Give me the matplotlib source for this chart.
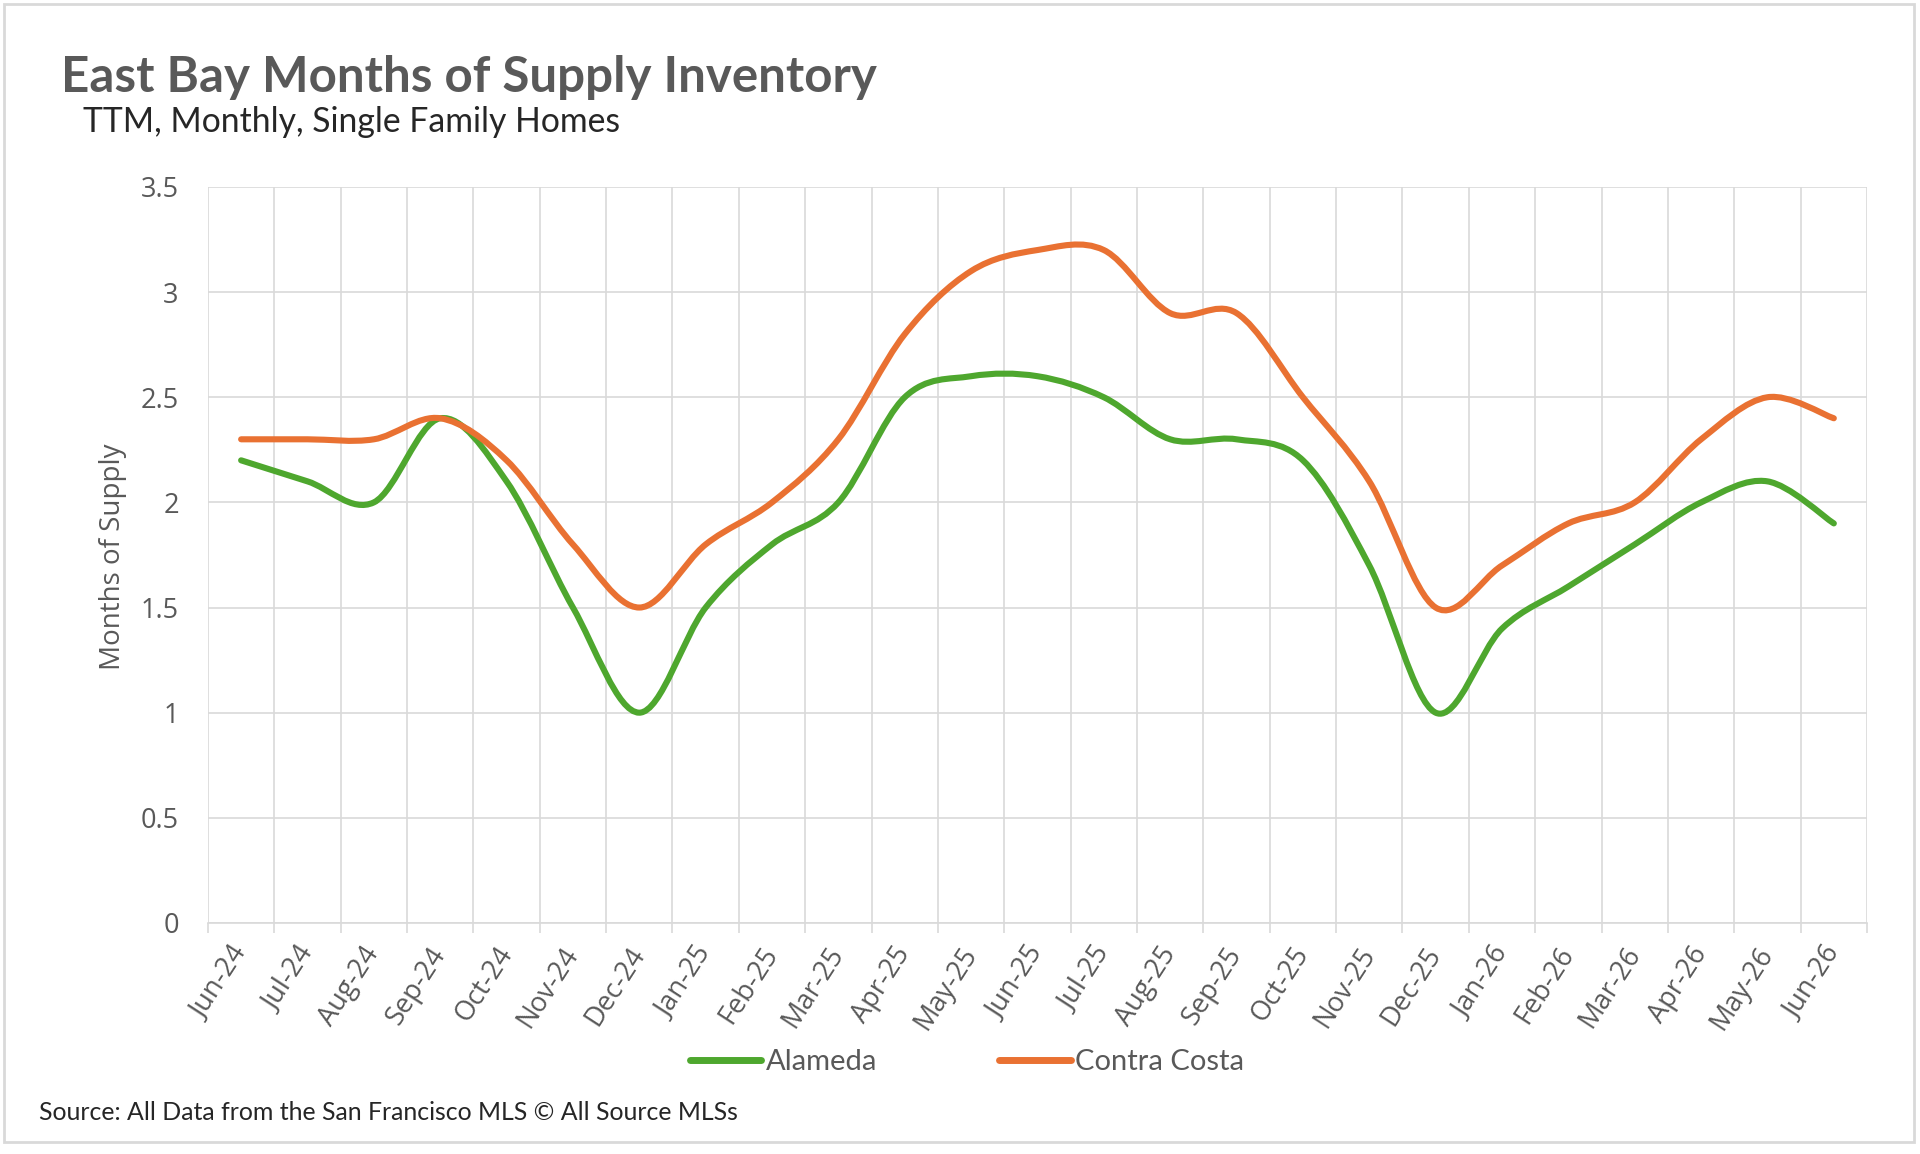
import numpy as np
import matplotlib
matplotlib.use('Agg')
import matplotlib.pyplot as plt
from matplotlib.path import Path
from matplotlib.patches import PathPatch, Rectangle
from matplotlib.lines import Line2D
from matplotlib.ticker import FuncFormatter

# data
months = ['Jun-24', 'Jul-24', 'Aug-24', 'Sep-24', 'Oct-24', 'Nov-24', 'Dec-24',
          'Jan-25', 'Feb-25', 'Mar-25', 'Apr-25', 'May-25', 'Jun-25', 'Jul-25',
          'Aug-25', 'Sep-25', 'Oct-25', 'Nov-25', 'Dec-25', 'Jan-26', 'Feb-26',
          'Mar-26', 'Apr-26', 'May-26', 'Jun-26']
alameda = [2.2, 2.1, 2.0, 2.4, 2.1, 1.5, 1.0, 1.5, 1.8, 2.0, 2.5, 2.6, 2.6,
           2.5, 2.3, 2.3, 2.2, 1.7, 1.0, 1.4, 1.6, 1.8, 2.0, 2.1, 1.9]
contra_costa = [2.3, 2.3, 2.3, 2.4, 2.2, 1.8, 1.5, 1.8, 2.0, 2.3, 2.8, 3.1, 3.2,
                3.2, 2.9, 2.9, 2.5, 2.1, 1.5, 1.7, 1.9, 2.0, 2.3, 2.5, 2.4]

GREEN = '#4EA72E'
ORANGE = '#E97132'
GRID = '#D9D9D9'
GRAY = '#595959'
DARK = '#262626'
NARROW = ['Lato', 'DejaVu Sans']

plt.rcParams['font.family'] = ['Open Sans', 'DejaVu Sans']


def smooth_path(vals):
    # excel style "smoothed line": cubic bezier through each point
    pts = np.column_stack([np.arange(len(vals), dtype=float), np.asarray(vals, float)])
    ext = np.vstack([pts[0], pts, pts[-1]])
    verts = [pts[0]]
    codes = [Path.MOVETO]
    for i in range(len(pts) - 1):
        p0, p1, p2, p3 = ext[i], ext[i + 1], ext[i + 2], ext[i + 3]
        verts += [p1 + (p2 - p0) / 6.0, p2 - (p3 - p1) / 6.0, p2]
        codes += [Path.CURVE4] * 3
    return Path(verts, codes)


fig = plt.figure(figsize=(19.2, 11.54), dpi=100)
ax = fig.add_axes([0.1083, 0.2002, 0.8641, 0.6378])

for vals, col in [(alameda, GREEN), (contra_costa, ORANGE)]:
    ax.add_patch(PathPatch(smooth_path(vals), facecolor='none', edgecolor=col,
                           lw=4.4, capstyle='round', joinstyle='round', zorder=3))

ax.set_xlim(-0.5, len(months) - 0.5)
ax.set_ylim(0, 3.5)
ax.set_yticks(np.arange(0, 3.51, 0.5))
ax.yaxis.set_major_formatter(FuncFormatter(lambda v, p: f'{v:g}'))
ax.set_xticks(range(len(months)))
ax.set_xticks(np.arange(-0.5, len(months)), minor=True)
ax.set_xticklabels(months, rotation=57, ha='right', va='center', rotation_mode='anchor')

ax.set_axisbelow(True)
ax.grid(axis='y', color=GRID, lw=1.2)
ax.grid(axis='x', which='minor', color=GRID, lw=1.2)
ax.tick_params(axis='x', which='major', length=0, pad=19, labelsize=19.5, labelcolor=GRAY)
ax.tick_params(axis='x', which='minor', length=7, width=1.2, color=GRID)
ax.tick_params(axis='y', length=0, pad=21, labelsize=19.5, labelcolor=GRAY)
for s in ['left', 'right', 'top']:
    ax.spines[s].set_visible(False)
ax.spines['bottom'].set_color(GRID)
ax.spines['bottom'].set_linewidth(1.2)

fig.text(113 / 1920, 1 - 557 / 1154, 'Months of Supply', rotation=90, ha='center',
         va='center', fontsize=20, color=GRAY)

title = fig.text(61 / 1920, 1 - 92 / 1154, 'East Bay Months of Supply Inventory',
                 fontsize=40, fontweight='bold', color=GRAY, family=NARROW, va='baseline')
subtitle = fig.text(83 / 1920, 1 - 132 / 1154, 'TTM, Monthly, Single Family Homes',
                    fontsize=28, color=DARK, family=NARROW, va='baseline')
source = fig.text(39 / 1920, 1 - 1120 / 1154,
                  'Source: All Data from the San Francisco MLS \u00a9 All Source MLSs',
                  fontsize=19, color=DARK, family=NARROW, va='baseline')

# squeeze the text to the widths seen in the picture
renderer = fig.canvas.get_renderer()
for t, w in [(title, 815), (subtitle, 537), (source, 700)]:
    bb = t.get_window_extent(renderer)
    t.set_fontsize(t.get_fontsize() * w / bb.width)

handles = [Line2D([], [], color=GREEN, lw=5, solid_capstyle='round'),
           Line2D([], [], color=ORANGE, lw=5, solid_capstyle='round')]
fig.legend(handles, ['Alameda', 'Contra Costa'], loc='center', bbox_to_anchor=(0.5036, 0.0797),
           ncol=2, frameon=False, handlelength=2.45, handletextpad=0.15, columnspacing=4.2,
           labelcolor=GRAY, prop={'family': NARROW, 'size': 21})

fig.add_artist(Rectangle((4 / 1920, 12 / 1154), 1910 / 1920, 1138 / 1154, transform=fig.transFigure,
                         facecolor='none', edgecolor=GRID, lw=2))

fig.savefig('out.png', dpi=100)
